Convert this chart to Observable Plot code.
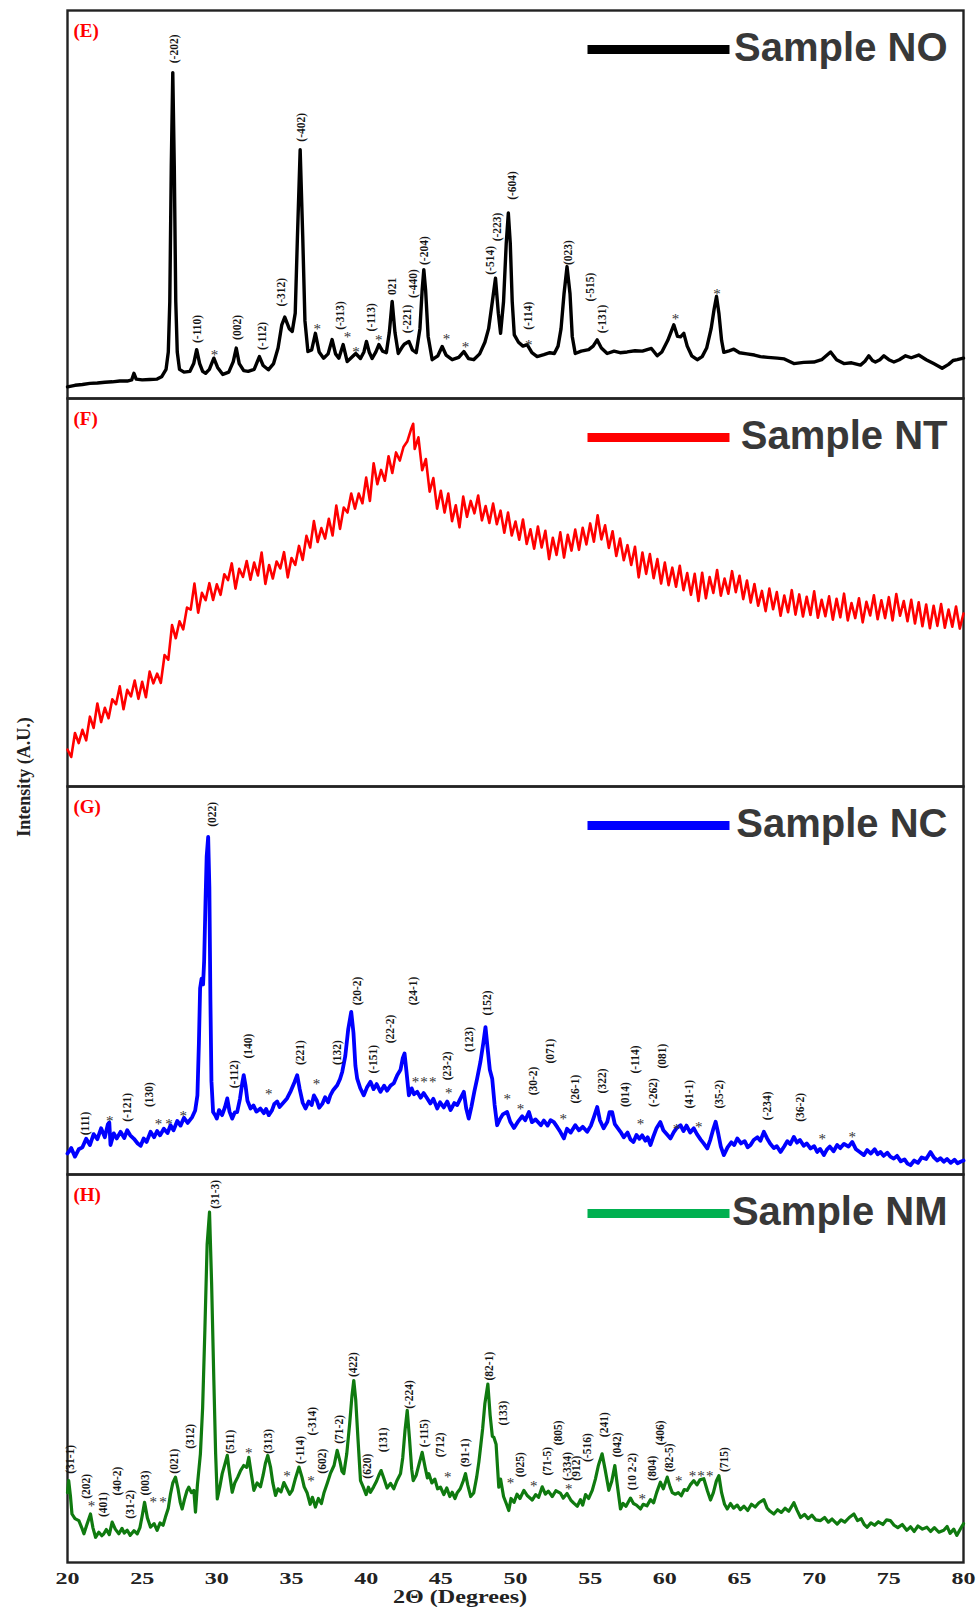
<!DOCTYPE html>
<html><head><meta charset="utf-8">
<script src="https://cdn.jsdelivr.net/npm/d3@7"></script>
<script src="https://cdn.jsdelivr.net/npm/@observablehq/plot@0.6"></script>
<style>html,body{margin:0;padding:0;background:#fff}</style>
</head><body>
<div id="chart"></div>
<script>
// ---------- DATA ----------
const panelIds = ["E", "F", "G", "H"];
const sampleNames = ["Sample NO", "Sample NT", "Sample NC", "Sample NM"];
const xTicks = [20, 25, 30, 35, 40, 45, 50, 55, 60, 65, 70, 75, 80];
const xTitle = "2Θ (Degrees)";
const yTitle = "Intensity (A.U.)";
const starText = "*";

// flat [2θ, intensity] pairs, intensity in arbitrary units (0–100 per panel)
const noTrace = [
20.0,3.0, 20.5,3.4, 21.0,3.6, 21.5,3.9, 22.0,4.0, 22.5,4.2, 23.0,4.3, 23.5,4.5, 24.0,4.5, 24.3,4.8, 24.45,6.5, 24.6,5.0, 25.0,4.8, 25.5,4.9, 26.0,5.0, 26.3,5.6, 26.6,7.5, 26.75,12, 26.85,25, 26.95,60, 27.05,84, 27.15,60, 27.25,25, 27.35,12, 27.5,7.5, 27.8,6.8, 28.2,7.0, 28.45,9.0, 28.65,12.6, 28.85,9.0, 29.05,7.0, 29.25,6.5, 29.5,7.5, 29.8,10.4, 30.05,8.0, 30.4,6.2, 30.8,6.8, 31.1,9.5, 31.3,13.0, 31.5,9.0, 31.8,7.2, 32.1,7.0, 32.5,7.5, 32.85,10.8, 33.1,8.5, 33.45,7.4, 33.8,9.0, 34.1,13.0, 34.35,19.0, 34.55,21.0, 34.85,18.0, 35.05,17.3, 35.25,22, 35.4,42, 35.58,64.1, 35.75,42, 35.9,20, 36.1,12.1, 36.35,12.5, 36.6,16.8, 36.85,12.0, 37.15,10.4, 37.45,11.5, 37.72,15.2, 37.95,11.5, 38.17,10.4, 38.46,13.9, 38.73,9.5, 39.0,10.5, 39.3,11.6, 39.62,10.3, 39.85,12.0, 40.02,14.7, 40.2,12.0, 40.4,10.3, 40.65,12.0, 40.85,13.9, 41.1,12.2, 41.35,11.8, 41.55,17.0, 41.74,25.0, 41.93,17.0, 42.15,11.6, 42.4,13.2, 42.55,14.0, 42.86,14.7, 43.1,12.5, 43.35,11.8, 43.6,18.0, 43.75,28.0, 43.86,33.2, 43.98,28.0, 44.15,16.0, 44.42,10.0, 44.8,11.0, 45.09,13.4, 45.35,11.2, 45.76,10.0, 46.2,10.6, 46.54,12.1, 46.85,10.3, 47.2,10.0, 47.6,11.5, 47.95,14.5, 48.2,18.0, 48.45,25.0, 48.66,31.0, 48.85,22.0, 49.0,16.8, 49.2,25.0, 49.38,40.0, 49.52,47.8, 49.65,40.0, 49.78,25.0, 49.92,16.4, 50.2,14.5, 50.5,13.5, 50.78,13.9, 51.1,11.8, 51.45,10.8, 51.9,11.3, 52.3,11.8, 52.6,11.6, 52.85,13.5, 53.05,18.0, 53.25,27.0, 53.45,34.0, 53.65,27.0, 53.8,16.0, 54.0,11.6, 54.4,12.2, 54.9,12.6, 55.2,13.5, 55.47,15.1, 55.75,13.0, 56.14,11.6, 56.6,12.2, 57.0,11.8, 57.48,12.0, 58.0,12.3, 58.5,12.2, 58.82,12.6, 59.1,12.9, 59.49,11.0, 59.8,12.0, 60.2,15.0, 60.6,19.0, 60.85,16.0, 61.05,15.9, 61.27,16.8, 61.5,13.5, 61.8,11.0, 62.17,10.0, 62.5,10.8, 62.8,13.0, 63.1,18.0, 63.3,23.0, 63.46,26.3, 63.62,22.0, 63.8,15.0, 63.95,11.9, 64.3,12.3, 64.62,12.7, 65.0,11.8, 65.5,11.5, 66.0,11.2, 66.4,10.8, 66.9,10.6, 67.53,10.4, 68.0,10.2, 68.64,9.0, 69.3,9.3, 69.98,9.4, 70.5,10.0, 71.1,12.0, 71.5,10.0, 71.99,9.0, 72.5,9.2, 73.1,8.6, 73.4,9.6, 73.66,11.0, 73.9,9.8, 74.1,9.4, 74.4,10.0, 74.67,11.0, 75.0,10.0, 75.34,9.4, 75.7,10.0, 76.12,11.0, 76.5,10.5, 77.0,11.2, 77.5,10.0, 78.0,9.0, 78.3,8.4, 78.57,7.8, 79.0,8.8, 79.3,9.8, 79.58,10.0, 80.0,10.4
];

const ntTrace = [
20.00,9.5, 20.25,7.6, 20.50,13.8, 20.75,11.2, 21.00,14.6, 21.25,11.9, 21.50,18.0, 21.75,15.1, 22.00,21.4, 22.25,16.6, 22.50,20.3, 22.75,17.6, 23.00,22.5, 23.25,21.2, 23.50,25.8, 23.75,19.9, 24.00,24.9, 24.25,23.2, 24.50,27.3, 24.75,22.6, 25.00,27.0, 25.25,23.0, 25.50,29.6, 25.75,26.6, 26.00,29.1, 26.25,26.7, 26.50,33.9, 26.75,32.7, 27.00,41.6, 27.25,38.2, 27.50,42.6, 27.75,40.5, 28.00,46.1, 28.25,45.6, 28.50,52.3, 28.75,44.8, 29.00,49.9, 29.25,48.0, 29.50,52.4, 29.75,48.1, 30.00,52.1, 30.25,49.4, 30.50,54.7, 30.75,53.2, 31.00,57.5, 31.25,51.0, 31.50,56.1, 31.75,54.0, 32.00,58.1, 32.25,53.3, 32.50,57.7, 32.75,54.4, 33.00,60.3, 33.25,52.2, 33.50,57.1, 33.75,53.6, 34.00,58.0, 34.25,56.2, 34.50,60.4, 34.75,53.9, 35.00,58.9, 35.25,57.1, 35.50,62.0, 35.75,58.4, 36.00,64.6, 36.25,61.6, 36.50,68.4, 36.75,63.0, 37.00,66.6, 37.25,63.9, 37.50,69.0, 37.75,64.7, 38.00,72.4, 38.25,66.4, 38.50,71.9, 38.75,70.6, 39.00,75.5, 39.25,71.6, 39.50,75.5, 39.75,73.0, 40.00,79.6, 40.25,73.6, 40.50,83.3, 40.75,77.9, 41.00,81.6, 41.25,78.8, 41.50,85.1, 41.75,80.8, 42.00,86.1, 42.25,84.0, 42.50,87.5, 42.75,88.9, 43.00,92.0, 43.15,93.5, 43.25,87.0, 43.50,90.0, 43.75,81.5, 44.00,84.4, 44.25,76.0, 44.50,79.5, 44.75,71.6, 45.00,76.2, 45.25,70.6, 45.50,75.5, 45.75,68.4, 46.00,72.5, 46.25,66.8, 46.50,74.7, 46.75,69.5, 47.00,73.6, 47.25,70.4, 47.50,75.0, 47.75,68.6, 48.00,72.3, 48.25,67.9, 48.50,72.9, 48.75,67.6, 49.00,71.1, 49.25,65.4, 49.50,70.6, 49.75,64.7, 50.00,68.3, 50.25,63.6, 50.50,68.8, 50.75,62.5, 51.00,66.3, 51.25,61.3, 51.50,67.0, 51.75,61.6, 52.00,65.9, 52.25,58.6, 52.50,64.1, 52.75,59.7, 53.00,65.5, 53.25,59.0, 53.50,64.9, 53.75,60.8, 54.00,66.2, 54.25,61.0, 54.50,66.7, 54.75,62.4, 55.00,67.8, 55.25,63.1, 55.50,69.9, 55.75,63.7, 56.00,67.3, 56.25,61.5, 56.50,65.8, 56.75,59.4, 57.00,63.9, 57.25,58.3, 57.50,62.2, 57.75,57.1, 58.00,61.8, 58.25,53.9, 58.50,60.3, 58.75,54.8, 59.00,59.9, 59.25,53.7, 59.50,58.6, 59.75,52.3, 60.00,57.7, 60.25,51.9, 60.50,56.4, 60.75,51.5, 61.00,56.9, 61.25,50.6, 61.50,55.0, 61.75,49.4, 62.00,54.8, 62.25,47.8, 62.50,55.1, 62.75,48.5, 63.00,54.0, 63.25,49.9, 63.50,55.8, 63.75,49.2, 64.00,53.6, 64.25,49.7, 64.50,55.5, 64.75,50.1, 65.00,54.3, 65.25,48.3, 65.50,53.1, 65.75,47.4, 66.00,52.2, 66.25,46.6, 66.50,50.4, 66.75,45.2, 67.00,51.0, 67.25,45.7, 67.50,50.1, 67.75,44.0, 68.00,49.2, 68.25,44.9, 68.50,50.6, 68.75,44.3, 69.00,49.5, 69.25,43.8, 69.50,48.9, 69.75,44.2, 70.00,50.3, 70.25,43.5, 70.50,48.1, 70.75,43.9, 71.00,49.0, 71.25,43.0, 71.50,48.4, 71.75,43.6, 72.00,49.7, 72.25,42.8, 72.50,47.3, 72.75,43.4, 73.00,48.5, 73.25,42.3, 73.50,47.6, 73.75,44.1, 74.00,49.3, 74.25,43.1, 74.50,48.0, 74.75,43.4, 75.00,48.8, 75.25,42.8, 75.50,49.6, 75.75,44.0, 76.00,47.8, 76.25,42.6, 76.50,48.1, 76.75,42.0, 77.00,47.5, 77.25,41.3, 77.50,46.9, 77.75,40.8, 78.00,46.6, 78.25,41.4, 78.50,47.0, 78.75,40.9, 79.00,45.6, 79.25,41.2, 79.50,46.4, 79.75,40.7, 80.00,44.6
];

const ncTrace = [
20.00,5.4, 20.25,6.8, 20.50,4.6, 20.75,6.5, 21.00,7.0, 21.25,9.2, 21.50,7.6, 21.75,10.4, 22.00,9.1, 22.25,11.9, 22.50,9.6, 22.70,12.9, 22.80,13.4, 22.88,7.6, 23.10,10.6, 23.30,9.3, 23.55,11.0, 23.80,9.4, 24.00,11.4, 24.20,10.1, 24.45,9.2, 24.70,8.0, 24.90,7.4, 25.10,9.3, 25.30,8.4, 25.56,11.0, 25.80,9.6, 26.00,11.2, 26.20,10.1, 26.45,11.8, 26.70,10.7, 26.90,12.7, 27.10,11.4, 27.35,13.8, 27.57,12.6, 27.80,14.6, 28.05,13.3, 28.35,14.8, 28.55,16.5, 28.70,20.4, 28.80,34, 28.88,48, 28.98,50.5, 29.08,49, 29.15,55, 29.24,70, 29.32,82, 29.42,87, 29.50,74, 29.57,45, 29.64,24, 29.75,16.1, 29.90,15.2, 30.00,14.4, 30.15,16.6, 30.35,15.3, 30.55,17.4, 30.70,19.6, 30.85,16.2, 31.03,14.4, 31.20,16.0, 31.36,16.1, 31.55,19.5, 31.70,23.5, 31.80,25.6, 31.92,23.0, 32.05,19.0, 32.26,17.0, 32.45,17.8, 32.65,16.2, 32.92,17.0, 33.15,15.8, 33.30,16.9, 33.48,15.3, 33.70,16.6, 33.85,18.2, 34.04,18.8, 34.20,17.4, 34.45,18.5, 34.70,19.6, 34.95,21.5, 35.20,23.8, 35.38,25.6, 35.55,22.0, 35.75,18.5, 35.94,17.0, 36.15,18.8, 36.35,17.9, 36.50,20.4, 36.70,19.0, 36.85,17.2, 37.06,18.2, 37.25,19.9, 37.45,18.6, 37.60,20.4, 37.80,21.8, 38.06,23.0, 38.25,24.6, 38.40,26.5, 38.60,30.5, 38.80,37.5, 39.00,41.9, 39.15,36.5, 39.28,28.0, 39.40,24.7, 39.60,22.3, 39.84,20.4, 40.05,22.4, 40.29,23.9, 40.50,22.0, 40.70,23.3, 40.96,21.3, 41.20,22.9, 41.40,21.6, 41.63,22.9, 41.85,23.5, 42.08,25.6, 42.30,27.0, 42.45,30.0, 42.57,31.2, 42.70,26.5, 42.86,20.4, 43.05,22.2, 43.20,20.7, 43.42,21.3, 43.65,19.8, 43.85,21.0, 44.09,19.6, 44.30,18.3, 44.50,19.5, 44.76,17.0, 44.95,18.6, 45.20,17.3, 45.43,18.8, 45.65,16.6, 45.90,18.4, 46.10,17.9, 46.30,19.5, 46.54,21.3, 46.70,17.0, 46.87,14.4, 47.05,17.5, 47.25,21.5, 47.43,24.7, 47.65,29.0, 47.85,34.0, 47.99,38.0, 48.12,33.0, 48.28,27.0, 48.44,24.7, 48.60,18.0, 48.77,12.7, 48.95,14.2, 49.15,15.5, 49.44,16.1, 49.65,13.6, 49.90,12.0, 50.10,13.2, 50.22,13.9, 50.45,15.0, 50.65,14.0, 50.90,16.1, 51.10,13.5, 51.35,14.2, 51.70,12.7, 51.90,13.9, 52.15,12.6, 52.35,14.0, 52.57,13.5, 52.80,12.2, 53.00,11.0, 53.24,9.3, 53.45,11.8, 53.70,10.8, 54.00,12.7, 54.25,11.4, 54.50,12.3, 54.80,11.0, 55.05,12.6, 55.25,14.8, 55.47,17.4, 55.65,14.0, 55.90,11.9, 56.15,13.6, 56.30,16.1, 56.47,16.1, 56.65,13.0, 57.03,11.0, 57.25,9.6, 57.50,10.8, 57.70,9.0, 57.90,8.4, 58.10,10.2, 58.30,9.2, 58.48,10.1, 58.70,8.7, 58.85,9.6, 59.04,7.6, 59.25,10.0, 59.45,12.0, 59.70,13.5, 59.90,11.4, 60.15,10.3, 60.38,9.3, 60.60,10.9, 60.80,12.0, 61.05,12.7, 61.25,11.2, 61.45,12.6, 61.70,10.8, 61.94,11.9, 62.15,10.4, 62.40,9.0, 62.60,8.0, 62.84,6.7, 63.05,9.0, 63.25,11.8, 63.40,13.6, 63.58,10.5, 63.75,7.2, 63.95,5.0, 64.20,7.0, 64.45,8.3, 64.65,7.6, 64.85,9.3, 65.10,8.0, 65.35,8.6, 65.55,7.0, 65.74,7.6, 65.95,8.9, 66.20,9.6, 66.40,8.7, 66.63,11.0, 66.85,9.3, 67.05,8.0, 67.30,6.8, 67.50,7.3, 67.75,5.8, 68.00,7.3, 68.20,8.6, 68.40,7.8, 68.64,9.7, 68.85,8.2, 69.05,8.9, 69.30,7.4, 69.50,8.0, 69.76,6.7, 70.00,7.3, 70.20,5.8, 70.40,6.6, 70.65,5.0, 70.85,6.4, 71.05,7.2, 71.30,6.0, 71.54,7.6, 71.75,6.8, 72.00,7.9, 72.30,7.2, 72.55,8.4, 72.80,6.5, 73.05,5.8, 73.33,5.0, 73.55,6.3, 73.80,5.4, 74.05,6.5, 74.25,5.2, 74.44,5.8, 74.65,4.8, 74.90,5.6, 75.10,4.6, 75.33,4.1, 75.55,4.8, 75.80,3.4, 76.05,3.9, 76.25,2.8, 76.45,2.4, 76.70,3.6, 76.95,3.0, 77.20,4.4, 77.50,4.0, 77.79,5.8, 78.00,4.5, 78.25,3.6, 78.45,4.2, 78.68,3.3, 78.90,4.0, 79.15,3.0, 79.40,3.8, 79.60,2.9, 79.80,3.3, 80.00,3.6
];

const nmTrace = [
20.00,18.0, 20.08,21.1, 20.20,17.0, 20.30,12.5, 20.50,11.3, 20.76,10.8, 20.95,9.0, 21.10,7.4, 21.30,9.8, 21.54,12.5, 21.70,9.0, 21.88,6.5, 22.10,7.8, 22.30,6.9, 22.43,7.4, 22.60,8.5, 22.80,7.2, 22.99,10.4, 23.20,8.6, 23.44,7.4, 23.65,8.8, 23.80,7.6, 24.00,8.3, 24.20,7.0, 24.45,8.2, 24.67,7.4, 24.85,9.0, 25.00,12.0, 25.16,15.5, 25.35,11.5, 25.56,9.1, 25.80,10.0, 26.00,8.3, 26.20,10.2, 26.40,9.6, 26.56,11.7, 26.75,14.0, 26.90,17.7, 27.05,20.5, 27.23,22.0, 27.40,19.0, 27.55,15.5, 27.68,13.8, 27.85,16.5, 28.00,18.5, 28.12,19.4, 28.30,18.0, 28.46,18.6, 28.57,13.0, 28.70,20.0, 28.90,28.0, 29.05,40.0, 29.20,60.0, 29.35,82.0, 29.51,90.3, 29.65,72.0, 29.80,46.9, 29.92,28.0, 30.03,16.4, 30.20,19.5, 30.36,22.9, 30.55,25.5, 30.70,27.6, 30.85,23.0, 31.03,18.1, 31.20,20.5, 31.40,22.0, 31.59,23.7, 31.80,25.0, 32.00,24.5, 32.14,27.1, 32.30,23.0, 32.48,18.6, 32.70,20.5, 32.92,19.5, 33.10,22.5, 33.25,25.5, 33.41,27.6, 33.60,24.5, 33.75,20.5, 33.93,17.3, 34.10,19.0, 34.30,18.2, 34.49,20.6, 34.70,19.0, 34.88,17.6, 35.05,18.6, 35.25,21.5, 35.50,24.6, 35.70,22.0, 35.85,19.5, 36.05,17.9, 36.25,15.0, 36.40,16.8, 36.60,14.3, 36.80,16.5, 37.00,15.2, 37.17,17.9, 37.40,20.5, 37.60,22.9, 37.85,25.0, 38.06,28.9, 38.25,26.0, 38.38,23.5, 38.50,22.9, 38.70,28.0, 38.90,36.0, 39.05,43.0, 39.17,46.9, 39.30,42.0, 39.45,32.0, 39.62,21.1, 39.80,19.5, 40.00,17.5, 40.15,19.4, 40.29,18.1, 40.50,19.5, 40.70,21.0, 40.85,22.5, 41.00,23.7, 41.20,21.5, 41.40,19.2, 41.63,20.4, 41.85,19.0, 42.05,21.0, 42.30,22.9, 42.45,27.0, 42.60,34.0, 42.75,39.2, 42.90,32.0, 43.05,24.0, 43.15,21.1, 43.35,22.5, 43.55,25.5, 43.75,28.4, 43.95,24.5, 44.10,21.8, 44.20,22.9, 44.40,20.5, 44.60,21.5, 44.78,19.0, 44.98,19.4, 45.20,17.5, 45.40,19.2, 45.60,17.0, 45.76,18.1, 45.95,16.5, 46.10,18.0, 46.30,19.0, 46.50,21.0, 46.65,22.9, 46.80,20.0, 47.00,17.0, 47.20,17.9, 47.40,22.0, 47.55,26.0, 47.66,29.7, 47.80,34.5, 47.95,41.0, 48.15,46.0, 48.30,38.0, 48.45,32.5, 48.55,32.3, 48.70,30.5, 48.88,19.4, 49.00,21.5, 49.20,17.0, 49.40,15.0, 49.55,13.4, 49.70,16.5, 49.90,15.5, 50.10,17.6, 50.30,16.5, 50.56,18.6, 50.80,17.2, 51.12,16.1, 51.35,17.5, 51.55,16.8, 51.79,19.5, 52.00,17.6, 52.20,18.4, 52.46,17.0, 52.70,18.5, 53.00,17.9, 53.20,16.6, 53.45,17.8, 53.70,16.1, 53.90,15.3, 54.14,14.5, 54.35,16.2, 54.50,14.8, 54.69,17.5, 54.90,16.5, 55.14,18.6, 55.35,21.5, 55.55,25.0, 55.80,28.0, 56.00,24.0, 56.25,18.6, 56.45,21.0, 56.65,25.0, 56.85,19.0, 57.03,13.8, 57.20,15.2, 57.40,14.5, 57.70,16.6, 57.90,15.2, 58.10,14.8, 58.37,13.8, 58.55,15.0, 58.80,14.6, 59.04,16.2, 59.25,15.4, 59.45,18.0, 59.70,20.7, 59.90,19.0, 60.16,22.0, 60.35,19.5, 60.50,18.0, 60.70,17.6, 60.90,18.0, 61.10,17.2, 61.30,18.8, 61.50,18.6, 61.70,20.0, 61.94,21.1, 62.15,20.0, 62.35,21.3, 62.61,21.6, 62.85,18.5, 63.06,16.1, 63.25,18.0, 63.45,21.0, 63.62,22.4, 63.80,18.0, 64.00,15.0, 64.18,13.8, 64.40,15.2, 64.60,14.0, 64.85,14.8, 65.05,13.6, 65.30,14.5, 65.55,13.4, 65.80,15.0, 66.05,14.3, 66.30,15.4, 66.63,16.2, 66.85,14.0, 67.05,13.2, 67.30,12.5, 67.55,13.6, 67.80,12.9, 68.05,14.0, 68.30,13.2, 68.64,15.4, 68.85,13.5, 69.09,11.6, 69.35,12.4, 69.60,11.3, 69.85,12.2, 70.10,11.0, 70.43,10.8, 70.70,11.6, 70.95,10.4, 71.20,11.2, 71.54,9.9, 71.80,11.0, 72.05,10.4, 72.35,11.6, 72.66,12.5, 72.90,10.8, 73.15,11.3, 73.35,9.8, 73.55,9.1, 73.80,10.2, 74.05,9.6, 74.30,10.5, 74.60,9.8, 74.85,11.0, 75.10,10.8, 75.35,9.6, 75.60,9.0, 75.90,9.8, 76.20,8.3, 76.45,9.2, 76.70,8.0, 76.95,9.4, 77.25,8.6, 77.55,9.1, 77.80,8.0, 78.05,9.0, 78.35,7.8, 78.68,8.3, 78.90,9.3, 79.10,7.5, 79.35,8.6, 79.55,7.0, 79.80,8.7, 80.00,10.0
];

// peak labels: [2θ, intensity at label base, hkl text]
const noLabels = [
[27.12,86.4,"(-202)"],[28.68,14.3,"(-110)"],[31.36,15.1,"(002)"],[33.04,12.5,"(-112)"],[34.31,23.7,"(-312)"],[35.65,66.2,"(-402)"],[38.28,17.7,"(-313)"],[40.33,17.3,"(-113)"],[41.74,26.7,"021"],[42.75,16.8,"(-221)"],[43.15,25.9,"(-440)"],[43.9,34.4,"(-204)"],[48.33,31.9,"(-514)"],[48.78,40.5,"(-223)"],[49.78,51.2,"(-604)"],[50.89,17.7,"(-114)"],[53.57,34.4,"(023)"],[55.02,25.0,"(-515)"],[55.8,16.8,"(-131)"]
];
const noStars = [[29.85,12.1],[36.72,19.0],[38.75,16.8],[39.32,13.0],[40.85,16.0],[45.38,16.4],[46.65,14.3],[50.89,14.7],[60.72,21.6],[63.5,28.0]];

const ntLabels = [];
const ntStars = [];

const ncLabels = [
[21.2,10.1,"(111)"],[24.0,13.6,"(-121)"],[25.5,17.4,"(130)"],[29.68,89.6,"(022)"],[31.14,22.2,"(-112)"],[32.14,29.9,"(140)"],[35.56,28.2,"(221)"],[38.06,28.2,"(132)"],[39.4,43.6,"(20-2)"],[40.47,26.0,"(-151)"],[41.63,33.8,"(22-2)"],[43.19,43.6,"(24-1)"],[45.43,24.3,"(23-2)"],[46.9,31.6,"(123)"],[48.1,41.0,"(152)"],[51.18,20.4,"(30-2)"],[52.3,28.6,"(071)"],[54.0,18.3,"(26-1)"],[55.8,20.9,"(322)"],[57.37,17.4,"(014)"],[58.04,26.0,"(-114)"],[59.26,17.4,"(-262)"],[59.82,27.3,"(081)"],[61.67,17.0,"(41-1)"],[63.68,17.0,"(35-2)"],[66.85,14.0,"(-234)"],[69.04,13.6,"(36-2)"]
];
const ncStars = [[22.83,14.9],[26.1,14.0],[26.8,14.0],[27.75,16.1],[33.48,21.7],[36.67,24.3],[43.3,24.7],[43.88,24.7],[44.46,24.7],[45.53,22.0],[49.44,20.4],[50.33,17.9],[53.19,15.3],[58.37,14.0],[60.78,12.7],[62.27,13.3],[70.54,10.1],[72.55,10.6]];

const nmLabels = [
[20.2,22.9,"(31-1)"],[21.27,16.4,"(202)"],[22.4,11.7,"(401)"],[23.33,17.3,"(40-2)"],[24.2,11.3,"(31-2)"],[25.2,17.3,"(003)"],[27.12,22.9,"(021)"],[28.2,29.3,"(312)"],[29.87,91.2,"(31-3)"],[30.87,28.0,"(511)"],[33.48,28.0,"(313)"],[35.56,25.4,"(-114)"],[36.38,32.7,"(-314)"],[37.05,22.9,"(602)"],[38.17,30.6,"(71-2)"],[39.17,47.8,"(422)"],[40.07,21.6,"(620)"],[41.18,28.4,"(131)"],[42.92,39.6,"(-224)"],[43.9,29.7,"(-115)"],[44.98,27.1,"(712)"],[46.65,24.6,"(91-1)"],[48.22,46.9,"(82-1)"],[49.17,35.3,"(133)"],[50.33,22.0,"(025)"],[52.16,22.4,"(71-5)"],[52.9,30.2,"(805)"],[53.46,21.1,"(-334)"],[54.09,21.1,"(912)"],[54.8,25.9,"(-516)"],[55.96,32.3,"(241)"],[56.81,27.1,"(042)"],[57.81,18.6,"(10 2-2)"],[59.15,21.1,"(804)"],[59.7,30.2,"(406)"],[60.27,23.3,"(82-5)"],[63.95,23.3,"(715)"]
];
const nmStars = [[21.6,15.5],[25.75,16.5],[26.4,16.5],[32.14,29.3],[34.7,23.3],[36.31,22.0],[45.47,22.9],[49.66,21.6],[51.23,20.7],[53.57,19.8],[58.48,17.3],[60.94,22.0],[61.85,23.3],[62.43,23.3],[63.0,23.3]];

// ---------- BUILD ----------
const traces = [noTrace, ntTrace, ncTrace, nmTrace];
const labelSets = [noLabels, ntLabels, ncLabels, nmLabels];
const starSets = [noStars, ntStars, ncStars, nmStars];
const lineColors = ["#000000", "#ff0000", "#0000ff", "#0f7a0f"];
const swatchColors = ["#000000", "#ff0000", "#0000ff", "#00b050"];
const lineWidths = [3.4, 2.6, 3.8, 3.2];

function toRows(flat, panel) {
  const out = [];
  for (let i = 0; i < flat.length; i += 2) out.push({panel, x: flat[i], y: flat[i + 1]});
  return out;
}

const swatch = {draw(context) { context.rect(-71, -4.5, 142, 9); }};

const marks = [Plot.frame({stroke: "#222", strokeWidth: 2.4})];

panelIds.forEach((p, i) => {
  marks.push(Plot.line(toRows(traces[i], p), {
    x: "x", y: "y", fy: "panel", stroke: lineColors[i], strokeWidth: lineWidths[i], strokeLinejoin: "round"
  }));
  const labs = labelSets[i].map(([x, y, t]) => ({panel: p, x, y, t}));
  marks.push(Plot.text(labs, {
    x: "x", y: "y", fy: "panel", text: "t", rotate: -90, textAnchor: "start",
    fontSize: 11.5, fontFamily: "Liberation Serif", fontWeight: "bold", fill: "#151515"
  }));
  const st = starSets[i].map(([x, y]) => ({panel: p, x, y}));
  marks.push(Plot.text(st, {
    x: "x", y: "y", fy: "panel", text: () => starText, dy: 4,
    fontSize: 15, fontFamily: "Liberation Serif", fontWeight: "normal", fill: "#333"
  }));
  marks.push(Plot.dot([{panel: p}], {
    fy: "panel", frameAnchor: "top-right", dx: -305, dy: 39, symbol: swatch, r: 5,
    fill: swatchColors[i], stroke: "none"
  }));
  marks.push(Plot.text([{panel: p, name: sampleNames[i]}], {
    fy: "panel", text: "name", frameAnchor: "top-right", textAnchor: "end", lineAnchor: "middle",
    dx: -16, dy: 38, fontSize: 40, fontFamily: "Liberation Sans", fontWeight: "bold", fill: "#383838"
  }));
});

marks.push(Plot.text(panelIds, {
  fy: d => d, text: d => `(${d})`, frameAnchor: "top-left", textAnchor: "start", lineAnchor: "middle",
  dx: 6, dy: 20, fill: "#ff0000", fontSize: 19, fontFamily: "Liberation Serif", fontWeight: "bold"
}));

const svg = Plot.plot({
  width: 980, height: 1613,
  marginTop: 9, marginBottom: 51, marginLeft: 67, marginRight: 17,
  style: {fontFamily: "Liberation Serif", fontSize: "16px", fontWeight: "bold", color: "#222", background: "#fff"},
  x: {domain: [20, 80], ticks: xTicks, tickSize: 0, tickPadding: 10, label: null, tickFormat: d => String(d)},
  y: {domain: [0, 100], axis: null},
  fy: {domain: panelIds, padding: 0, axis: null, label: null},
  marks
});

document.getElementById("chart").appendChild(svg);

const s = d3.select(svg);
s.selectAll('[aria-label="x-axis tick label"] text').each(function() {
  const t = this.getAttribute("transform") || "";
  this.setAttribute("transform", t + " scale(1.5,1)");
});
s.append("text")
  .attr("transform", "translate(460,1603) scale(1.27,1)")
  .attr("text-anchor", "middle")
  .attr("font-family", "Liberation Serif").attr("font-weight", "bold").attr("font-size", 19)
  .attr("fill", "#222")
  .text(xTitle);
s.append("text")
  .attr("transform", "translate(24,777) rotate(-90)")
  .attr("text-anchor", "middle").attr("dy", "0.35em")
  .attr("font-family", "Liberation Serif").attr("font-weight", "bold").attr("font-size", 18)
  .attr("fill", "#222")
  .text(yTitle);
</script>
</body></html>
